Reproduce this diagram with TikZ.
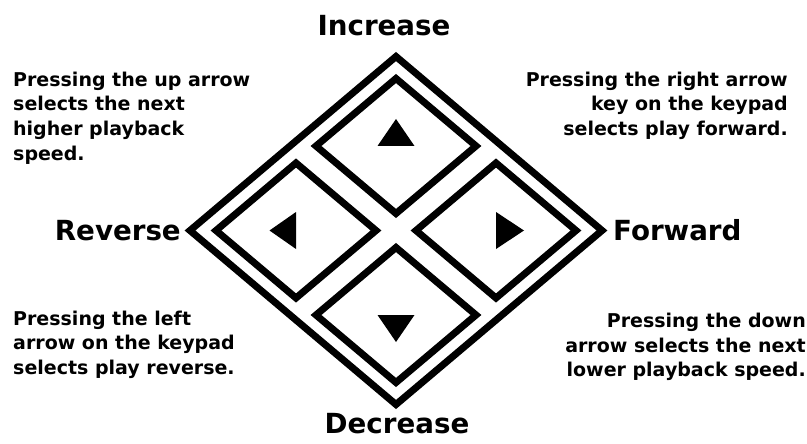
\documentclass[tikz,border=0pt]{standalone}
\usepackage{fontspec}
\setmainfont{DejaVu Sans}
\begin{document}
\begin{tikzpicture}[x=1pt,y=-1pt,
  frame/.style={line width=7pt,line join=miter,black},
  keytri/.style={fill=black},
  heading/.style={font=\fontsize{27.7}{30}\selectfont\bfseries,inner sep=0pt},
  note/.style={font=\fontsize{19}{24.6}\selectfont\bfseries,inner sep=0pt}]
\useasboundingbox (0,0) rectangle (807,444);
% outer diamond
\coordinate (c) at (396,230.5);
\draw[frame] (396,56.5) -- (602,230.5) -- (396,404.5) -- (190,230.5) -- cycle;
% keys
\foreach \kx/\ky in {396/146, 296/230.5, 496/230.5, 396/315}{
  \draw[frame] (\kx,\ky-67.5) -- (\kx+80,\ky) -- (\kx,\ky+67.5) -- (\kx-80,\ky) -- cycle;
}
% triangles
\fill[keytri] (377.5,146) -- (396,119) -- (414.5,146) -- cycle;
\fill[keytri] (296,212) -- (269.5,230.5) -- (296,249) -- cycle;
\fill[keytri] (496,212) -- (524,230.5) -- (496,249) -- cycle;
\fill[keytri] (377.5,315) -- (396,342) -- (414.5,315) -- cycle;
% headings
\node[heading,anchor=base] (inc) at (384,36) {Increase};
\node[heading,anchor=base] (dec) at (397,433) {Decrease};
\node[heading,anchor=base east] (rev) at (181,240) {Reverse};
\node[heading,anchor=base west] (fwd) at (613,240) {Forward};
% notes
\node[note,anchor=north west,align=left] (tl) at (13,71.6) {Pressing the up arrow\\selects the next\\higher playback\\speed.};
\node[note,anchor=north east,align=right] (tr) at (788,71.6) {Pressing the right arrow\\key on the keypad\\selects play forward.};
\node[note,anchor=north west,align=left] (bl) at (13,310.6) {Pressing the left\\arrow on the keypad\\selects play reverse.};
\node[note,anchor=north east,align=right] (br) at (806,313) {Pressing the down\\arrow selects the next\\lower playback speed.};
\end{tikzpicture}
\end{document}
